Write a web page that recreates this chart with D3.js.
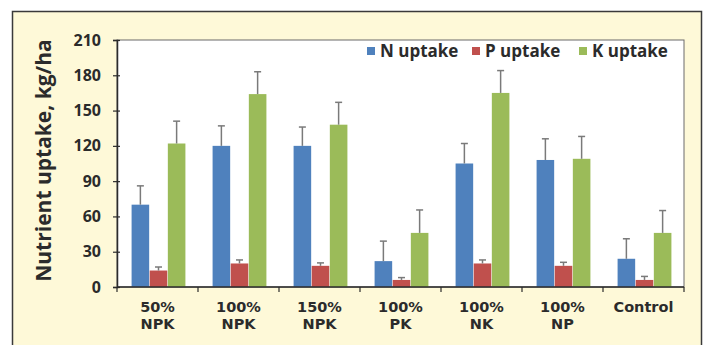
<!DOCTYPE html>
<html>
<head>
<meta charset="utf-8">
<script src="https://cdn.jsdelivr.net/npm/d3@7"></script>
<style>
  html, body { margin: 0; padding: 0; background: #ffffff; }
  svg { display: block; }
  text { font-family: "Open Sans", "DejaVu Sans", sans-serif; font-weight: 700; fill: #2b2b2b; }
</style>
</head>
<body>
<svg id="chart" width="711" height="345"></svg>
<script>
// Treatments (two-line labels)
const categories = ["50% NPK", "100% NPK", "150% NPK", "100% PK", "100% NK", "100% NP", "Control"];
const categoryLines = [["50%", "NPK"], ["100%", "NPK"], ["150%", "NPK"], ["100%", "PK"], ["100%", "NK"], ["100%", "NP"], ["Control"]];

// Mean nutrient uptake, kg/ha
const nUptake = [70, 120, 120, 22, 105, 108, 24];
const pUptake = [14, 20, 18, 6, 20, 18, 6];
const kUptake = [122, 164, 138, 46, 165, 109, 46];

// Upper ends of the error bars, kg/ha
const nUpper = [86, 137, 136, 39, 122, 126, 41];
const pUpper = [17, 23, 20.5, 8, 23, 21, 9];
const kUpper = [141, 183, 157, 65.5, 184, 128, 65];

const seriesNames = ["N uptake", "P uptake", "K uptake"];
const seriesColors = ["#4f81bd", "#c0504d", "#9bbb59"];
const yTicks = [0, 30, 60, 90, 120, 150, 180, 210];

const series = [
  { name: seriesNames[0], values: nUptake, upper: nUpper },
  { name: seriesNames[1], values: pUptake, upper: pUpper },
  { name: seriesNames[2], values: kUptake, upper: kUpper }
];

const svg = d3.select("#chart");

// Framed panel
svg.append("rect")
  .attr("x", 12.5).attr("y", 11.5)
  .attr("width", 689).attr("height", 345)
  .attr("fill", "#fef9d8")
  .attr("stroke", "#3a3a3a").attr("stroke-width", 1.5);

const plot = { left: 117, right: 684, top: 40, bottom: 287 };

const x = d3.scaleBand()
  .domain(categories)
  .range([plot.left, plot.right])
  .paddingInner(0).paddingOuter(0);

const xs = d3.scaleBand()
  .domain(seriesNames)
  .range([1, x.bandwidth() + 1])
  .paddingInner(0.03)
  .paddingOuter(0.75);

const y = d3.scaleLinear().domain([0, 210]).range([plot.bottom, plot.top]);

// Plot area
svg.append("rect")
  .attr("x", plot.left).attr("y", plot.top)
  .attr("width", plot.right - plot.left).attr("height", plot.bottom - plot.top)
  .attr("fill", "#ffffff")
  .attr("stroke", "#6a6a6a").attr("stroke-width", 1);

// Bars
const groups = svg.append("g").selectAll("g")
  .data(series)
  .join("g")
  .attr("fill", (d, i) => seriesColors[i]);

groups.selectAll("rect")
  .data(d => d.values.map((v, i) => ({ cat: categories[i], v, name: d.name })))
  .join("rect")
  .attr("x", d => x(d.cat) + xs(d.name))
  .attr("y", d => y(d.v))
  .attr("width", xs.bandwidth())
  .attr("height", d => y(0) - y(d.v));

// Error bars (upper whiskers)
const err = svg.append("g").attr("stroke", "#7a7a7a").attr("stroke-width", 1.5);
series.forEach(s => {
  s.values.forEach((v, i) => {
    const cx = x(categories[i]) + xs(s.name) + xs.bandwidth() / 2;
    err.append("line")
      .attr("x1", cx).attr("x2", cx)
      .attr("y1", y(v)).attr("y2", y(s.upper[i]));
    err.append("line")
      .attr("x1", cx - 3.5).attr("x2", cx + 3.5)
      .attr("y1", y(s.upper[i])).attr("y2", y(s.upper[i]));
  });
});

// Y axis
const yAxis = d3.axisLeft(y).tickValues(yTicks).tickSize(4).tickPadding(12);
const gy = svg.append("g").attr("transform", `translate(${plot.left},0)`).call(yAxis);
gy.select(".domain").attr("stroke", "#2b2b2b").attr("stroke-width", 1.5);
gy.selectAll(".tick line").attr("stroke", "#2b2b2b").attr("x2", -4).attr("x1", 3).attr("stroke-width", 1.2);
gy.selectAll(".tick text")
  .style("font-size", "16px").attr("fill", "#2b2b2b")
  .style("font-family", "'Open Sans', 'DejaVu Sans', sans-serif").style("font-weight", 700);

// X axis: line with ticks at category boundaries
const gx = svg.append("g");
gx.append("line")
  .attr("x1", plot.left).attr("x2", plot.right)
  .attr("y1", plot.bottom).attr("y2", plot.bottom)
  .attr("stroke", "#2b2b2b").attr("stroke-width", 1.5);
const boundaries = categories.map(c => x(c)).concat([plot.right]);
gx.selectAll("line.b")
  .data(boundaries)
  .join("line").attr("class", "b")
  .attr("x1", d => d).attr("x2", d => d)
  .attr("y1", plot.bottom).attr("y2", plot.bottom + 5)
  .attr("stroke", "#2b2b2b").attr("stroke-width", 1.2);

// Category labels, one text element per line
const labelRows = [];
categoryLines.forEach((lines, i) => {
  lines.forEach((t, j) => labelRows.push({ cat: categories[i], t, j }));
});
gx.selectAll("text.cat")
  .data(labelRows)
  .join("text").attr("class", "cat")
  .attr("x", d => x(d.cat) + x.bandwidth() / 2)
  .attr("y", d => 312 + d.j * 17)
  .attr("text-anchor", "middle")
  .style("font-family", "'DejaVu Sans', sans-serif")
  .style("font-size", "14.5px")
  .text(d => d.t);

// Y axis title
svg.append("text")
  .attr("transform", `translate(51,${(plot.top + plot.bottom) / 2 - 3}) rotate(-90)`)
  .attr("text-anchor", "middle")
  .style("font-size", "21px")
  .text("Nutrient uptake, kg/ha");

// Legend
const legendX = [367, 472, 579];
const lg = svg.append("g");
series.forEach((s, i) => {
  lg.append("rect")
    .attr("x", legendX[i]).attr("y", 47)
    .attr("width", 8).attr("height", 8)
    .attr("fill", seriesColors[i]);
  lg.append("text")
    .attr("x", legendX[i] + 13).attr("y", 57)
    .style("font-size", "17px")
    .text(s.name);
});
</script>
</body>
</html>
